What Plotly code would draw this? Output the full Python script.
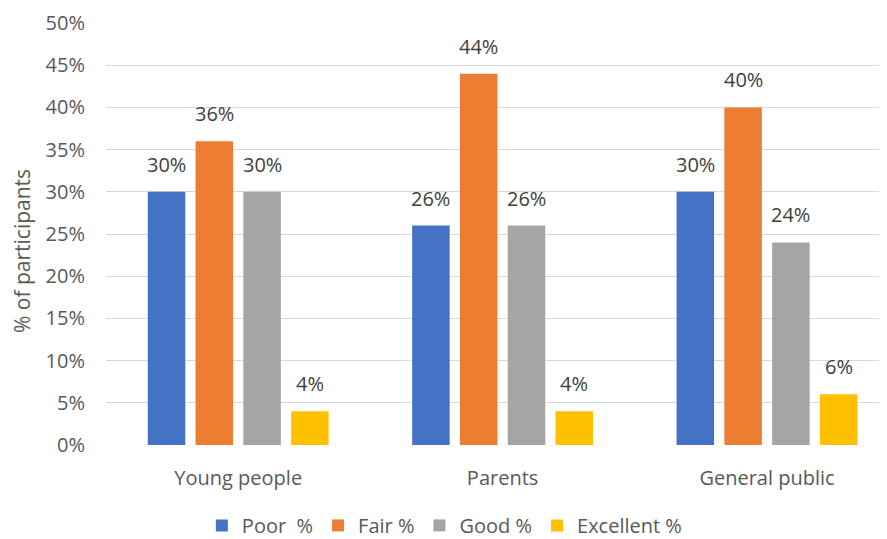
import plotly.graph_objects as go

categories = ["Young people", "Parents", "General public"]
series_names = ["Poor \u00a0%", "Fair %", "Good %", "Excellent %"]
poor = [0.30, 0.26, 0.30]
fair = [0.36, 0.44, 0.40]
good = [0.30, 0.26, 0.24]
excellent = [0.04, 0.04, 0.06]
y_ticks = [0, 0.05, 0.10, 0.15, 0.20, 0.25, 0.30, 0.35, 0.40, 0.45, 0.50]
y_title = "% of participants"

series_values = [poor, fair, good, excellent]
colors = ["#4472C4", "#ED7D31", "#A5A5A5", "#FFC000"]

FONT = "'Open Sans', sans-serif"
FS = 20
bargap = 0.277
bargroupgap = 0.215

fig = go.Figure()
for name, vals, col in zip(series_names, series_values, colors):
    fig.add_trace(go.Bar(
        x=list(range(len(categories))), y=vals, name=name,
        marker=dict(color=col, line=dict(width=0)),
        hoverinfo="y",
    ))

n = len(series_values)
slot = (1 - bargap) / n
annotations = []
for i, vals in enumerate(series_values):
    for j, v in enumerate(vals):
        annotations.append(dict(
            x=j + (i - (n - 1) / 2) * slot, y=v, xref="x", yref="y",
            text=f"{round(v*100)}%", showarrow=False,
            yanchor="bottom", yshift=12,
            font=dict(family=FONT, size=FS, color="#404040"),
        ))

# page body has an 8px margin, so the figure is sized to fit the 887x539 window
W, H = 879, 531
ML, MT = 98, 15
MB = H - 437.5
PLOT_H = H - MT - MB

annotations.append(dict(
    text=y_title, textangle=-90, showarrow=False, borderpad=0,
    xref="paper", yref="paper", x=0, y=0.5, xanchor="center", yanchor="middle",
    xshift=-(ML - 14), yshift=-17,
    font=dict(family=FONT, size=21, color="#595959"),
))

fig.update_layout(
    width=W, height=H,
    margin=dict(l=ML, r=0, t=MT, b=MB, autoexpand=False),
    paper_bgcolor="white", plot_bgcolor="white",
    barmode="group", bargap=bargap, bargroupgap=bargroupgap,
    font=dict(family=FONT, size=FS, color="#595959"),
    xaxis=dict(
        range=[-0.5, -0.5 + (W - ML) / 264.4],
        tickmode="array", tickvals=list(range(len(categories))), ticktext=categories,
        showgrid=False, zeroline=False, showline=False, ticks="",
        ticklabelstandoff=19,
        tickfont=dict(family=FONT, size=FS, color="#595959"),
    ),
    yaxis=dict(
        range=[0, 0.5], tickmode="array", tickvals=y_ticks, tickformat=".0%",
        showgrid=True, gridcolor="#D9D9D9", gridwidth=1.3,
        zeroline=False, showline=False, ticks="", ticklabelstandoff=20,
        tickfont=dict(family=FONT, size=FS, color="#595959"),
    ),
    legend=dict(
        orientation="h", xref="container", yref="paper",
        x=0.497, xanchor="center", y=-80.5 / PLOT_H, yanchor="middle",
        font=dict(family=FONT, size=FS, color="#595959"),
    ),
    annotations=annotations,
)

fig.write_html("out.html")
